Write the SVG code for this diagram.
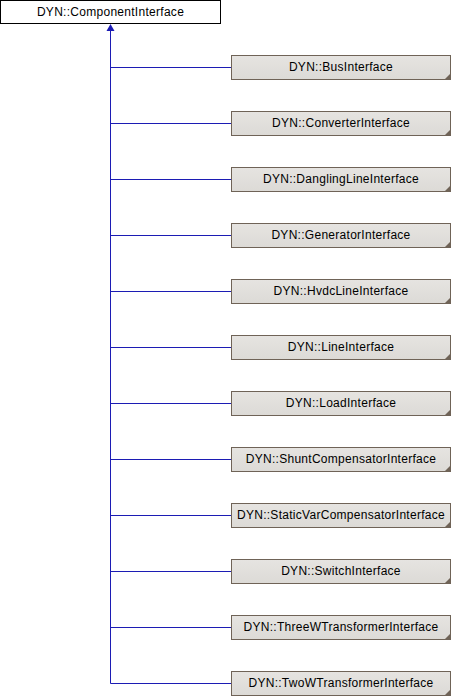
<svg xmlns="http://www.w3.org/2000/svg" width="452" height="696" viewBox="0 0 452 696">
<style>
text{font-family:"Liberation Sans",Arial,sans-serif;font-size:12px;text-anchor:middle;fill:#000;letter-spacing:0.28px}
.base{fill:#fff;stroke:#000;stroke-width:1}
.child{fill:url(#g);stroke:#6f6357;stroke-width:1}
.corner{fill:#6f6357}
.conn{fill:none;stroke:#1c1cb4;stroke-width:1}
</style>
<defs>
<linearGradient id="g" x1="0" y1="0" x2="0" y2="1">
<stop offset="0" stop-color="#e6e4e1"/>
<stop offset="1" stop-color="#dcdad6"/>
</linearGradient>
<g id="node">
<rect class="child" x="231.5" y="0.5" width="219" height="24"/>
<polygon class="corner" points="450,19 450,25 444,25"/>
</g>
</defs>
<g id="connectors">
<line class="conn" x1="110.5" y1="30" x2="110.5" y2="683.5"/>
<line class="conn" x1="110.5" y1="67.5" x2="231" y2="67.5"/>
<line class="conn" x1="110.5" y1="123.5" x2="231" y2="123.5"/>
<line class="conn" x1="110.5" y1="179.5" x2="231" y2="179.5"/>
<line class="conn" x1="110.5" y1="235.5" x2="231" y2="235.5"/>
<line class="conn" x1="110.5" y1="291.5" x2="231" y2="291.5"/>
<line class="conn" x1="110.5" y1="347.5" x2="231" y2="347.5"/>
<line class="conn" x1="110.5" y1="403.5" x2="231" y2="403.5"/>
<line class="conn" x1="110.5" y1="459.5" x2="231" y2="459.5"/>
<line class="conn" x1="110.5" y1="515.5" x2="231" y2="515.5"/>
<line class="conn" x1="110.5" y1="571.5" x2="231" y2="571.5"/>
<line class="conn" x1="110.5" y1="627.5" x2="231" y2="627.5"/>
<line class="conn" x1="110.5" y1="683.5" x2="231" y2="683.5"/>
<polygon points="110.5,24 114.5,31 106.5,31" fill="#1c1cb4"/>
</g>
<g id="ComponentInterface">
<rect class="base" x="0.5" y="0.5" width="220" height="23"/>
<text x="110.5" y="16">DYN::ComponentInterface</text>
</g>
<g id="BusInterface"><use href="#node" y="55"/><text x="341" y="71">DYN::BusInterface</text></g>
<g id="ConverterInterface"><use href="#node" y="111"/><text x="341" y="127">DYN::ConverterInterface</text></g>
<g id="DanglingLineInterface"><use href="#node" y="167"/><text x="341" y="183">DYN::DanglingLineInterface</text></g>
<g id="GeneratorInterface"><use href="#node" y="223"/><text x="341" y="239">DYN::GeneratorInterface</text></g>
<g id="HvdcLineInterface"><use href="#node" y="279"/><text x="341" y="295">DYN::HvdcLineInterface</text></g>
<g id="LineInterface"><use href="#node" y="335"/><text x="341" y="351">DYN::LineInterface</text></g>
<g id="LoadInterface"><use href="#node" y="391"/><text x="341" y="407">DYN::LoadInterface</text></g>
<g id="ShuntCompensatorInterface"><use href="#node" y="447"/><text x="341" y="463">DYN::ShuntCompensatorInterface</text></g>
<g id="StaticVarCompensatorInterface"><use href="#node" y="503"/><text x="341" y="519">DYN::StaticVarCompensatorInterface</text></g>
<g id="SwitchInterface"><use href="#node" y="559"/><text x="341" y="575">DYN::SwitchInterface</text></g>
<g id="ThreeWTransformerInterface"><use href="#node" y="615"/><text x="341" y="631">DYN::ThreeWTransformerInterface</text></g>
<g id="TwoWTransformerInterface"><use href="#node" y="671"/><text x="341" y="687">DYN::TwoWTransformerInterface</text></g>
</svg>
